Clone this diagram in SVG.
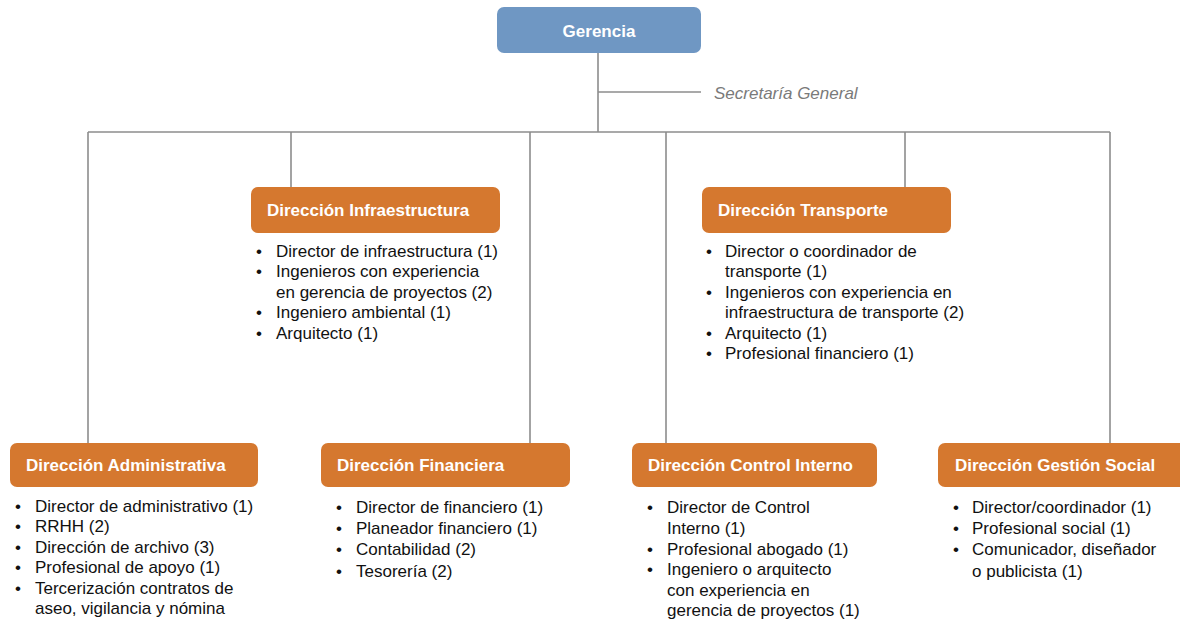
<svg xmlns="http://www.w3.org/2000/svg" width="1180" height="621" viewBox="0 0 1180 621">
  <style>
    .bg { fill: #ffffff; }
    .conn { stroke: #8c8c8c; stroke-width: 1.6; fill: none; }
    .top { fill: #6f97c3; }
    .dir { fill: #d5782f; }
    .title { font-family: "Liberation Sans", Arial, sans-serif; font-weight: bold; font-size: 17px; fill: #ffffff; }
    .item { font-family: "Liberation Sans", Arial, sans-serif; font-size: 17px; fill: #111111; }
    .note { font-family: "Liberation Sans", Arial, sans-serif; font-style: italic; font-size: 17px; fill: #7a7a7a; }
  </style>
  <rect class="bg" x="0" y="0" width="1180" height="621"/>

  <!-- connectors -->
  <g id="connectors">
    <path class="conn" d="M598 53 V132"/>
    <path class="conn" d="M598 92 H701"/>
    <path class="conn" d="M88 132 H1110"/>
    <path class="conn" d="M88 132 V443"/>
    <path class="conn" d="M291 132 V187"/>
    <path class="conn" d="M530 132 V443"/>
    <path class="conn" d="M666 132 V443"/>
    <path class="conn" d="M905 132 V187"/>
    <path class="conn" d="M1110 132 V443"/>
  </g>

  <g id="gerencia">
    <rect class="top" x="497" y="7" width="204" height="46" rx="7"/>
    <text class="title" x="599" y="37" text-anchor="middle">Gerencia</text>
  </g>

  <g id="secretaria">
    <text class="note" x="714" y="99">Secretaría General</text>
  </g>

  <g id="dir-infraestructura">
    <rect class="dir" x="251" y="187" width="249" height="46" rx="7"/>
    <text class="title" x="267" y="216">Dirección Infraestructura</text>
    <text class="item" x="256" y="257">•</text>
    <text class="item" x="276" y="257">Director de infraestructura (1)</text>
    <text class="item" x="256" y="277">•</text>
    <text class="item" x="276" y="277">Ingenieros con experiencia</text>
    <text class="item" x="276" y="298">en gerencia de proyectos (2)</text>
    <text class="item" x="256" y="318">•</text>
    <text class="item" x="276" y="318">Ingeniero ambiental (1)</text>
    <text class="item" x="256" y="339">•</text>
    <text class="item" x="276" y="339">Arquitecto (1)</text>
  </g>

  <g id="dir-transporte">
    <rect class="dir" x="702" y="187" width="249" height="46" rx="7"/>
    <text class="title" x="718" y="216">Dirección Transporte</text>
    <text class="item" x="706" y="257">•</text>
    <text class="item" x="725" y="257">Director o coordinador de</text>
    <text class="item" x="725" y="277">transporte (1)</text>
    <text class="item" x="706" y="298">•</text>
    <text class="item" x="725" y="298">Ingenieros con experiencia en</text>
    <text class="item" x="725" y="318">infraestructura de transporte (2)</text>
    <text class="item" x="706" y="339">•</text>
    <text class="item" x="725" y="339">Arquitecto (1)</text>
    <text class="item" x="706" y="359">•</text>
    <text class="item" x="725" y="359">Profesional financiero (1)</text>
  </g>

  <g id="dir-administrativa">
    <rect class="dir" x="10" y="443" width="248" height="44" rx="7"/>
    <text class="title" x="26" y="471">Dirección Administrativa</text>
    <text class="item" x="15" y="512">•</text>
    <text class="item" x="35" y="512">Director de administrativo (1)</text>
    <text class="item" x="15" y="532">•</text>
    <text class="item" x="35" y="532">RRHH (2)</text>
    <text class="item" x="15" y="553">•</text>
    <text class="item" x="35" y="553">Dirección de archivo (3)</text>
    <text class="item" x="15" y="573">•</text>
    <text class="item" x="35" y="573">Profesional de apoyo (1)</text>
    <text class="item" x="15" y="594">•</text>
    <text class="item" x="35" y="594">Tercerización contratos de</text>
    <text class="item" x="35" y="614">aseo, vigilancia y nómina</text>
  </g>

  <g id="dir-financiera">
    <rect class="dir" x="321" y="443" width="249" height="44" rx="7"/>
    <text class="title" x="337" y="471">Dirección Financiera</text>
    <text class="item" x="336" y="513">•</text>
    <text class="item" x="356" y="513">Director de financiero (1)</text>
    <text class="item" x="336" y="534">•</text>
    <text class="item" x="356" y="534">Planeador financiero (1)</text>
    <text class="item" x="336" y="555">•</text>
    <text class="item" x="356" y="555">Contabilidad (2)</text>
    <text class="item" x="336" y="577">•</text>
    <text class="item" x="356" y="577">Tesorería (2)</text>
  </g>

  <g id="dir-control-interno">
    <rect class="dir" x="632" y="443" width="245" height="44" rx="7"/>
    <text class="title" x="648" y="471">Dirección Control Interno</text>
    <text class="item" x="647" y="513">•</text>
    <text class="item" x="667" y="513">Director de Control</text>
    <text class="item" x="667" y="534">Interno (1)</text>
    <text class="item" x="647" y="555">•</text>
    <text class="item" x="667" y="555">Profesional abogado (1)</text>
    <text class="item" x="647" y="575">•</text>
    <text class="item" x="667" y="575">Ingeniero o arquitecto</text>
    <text class="item" x="667" y="596">con experiencia en</text>
    <text class="item" x="667" y="616">gerencia de proyectos (1)</text>
  </g>

  <g id="dir-gestion-social">
    <rect class="dir" x="938" y="443" width="260" height="44" rx="7"/>
    <text class="title" x="955" y="471">Dirección Gestión Social</text>
    <text class="item" x="953" y="513">•</text>
    <text class="item" x="972" y="513">Director/coordinador (1)</text>
    <text class="item" x="953" y="534">•</text>
    <text class="item" x="972" y="534">Profesional social (1)</text>
    <text class="item" x="953" y="555">•</text>
    <text class="item" x="972" y="555">Comunicador, diseñador</text>
    <text class="item" x="972" y="577">o publicista (1)</text>
  </g>
</svg>
